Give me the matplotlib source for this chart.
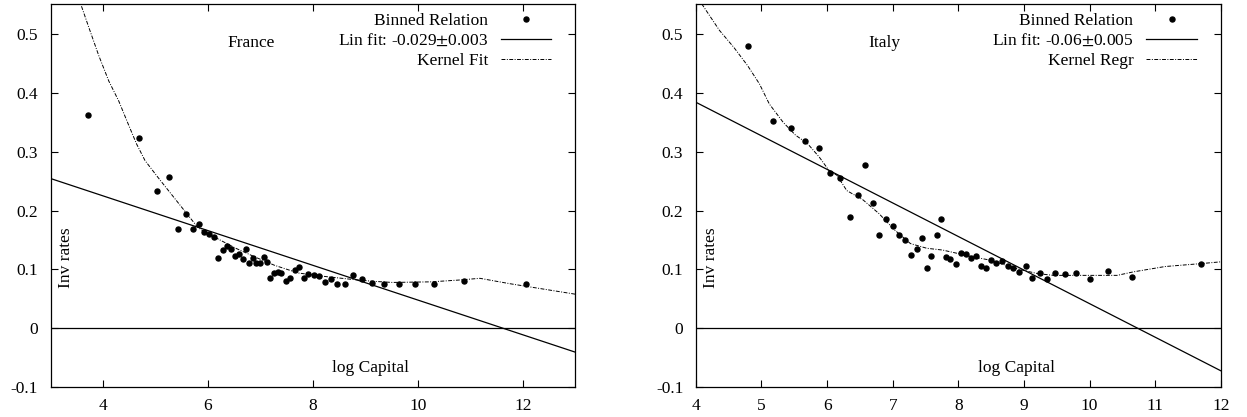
import matplotlib
matplotlib.use('Agg')
import matplotlib.pyplot as plt
import numpy as np

plt.rcParams['font.family'] = ['Liberation Serif', 'DejaVu Serif']
plt.rcParams['mathtext.fontset'] = 'stix'

# France: binned relation
fr_x = [3.72, 4.69, 5.02, 5.25, 5.43, 5.58, 5.71, 5.82, 5.92, 6.02, 6.12, 6.19, 6.28,
        6.37, 6.43, 6.51, 6.59, 6.66, 6.72, 6.78, 6.85, 6.92, 6.99, 7.06, 7.12, 7.19,
        7.26, 7.33, 7.40, 7.48, 7.57, 7.66, 7.74, 7.82, 7.91, 8.01, 8.12, 8.23, 8.35,
        8.46, 8.61, 8.76, 8.93, 9.13, 9.36, 9.63, 9.94, 10.31, 10.88, 12.06]
fr_y = [0.363, 0.324, 0.233, 0.257, 0.168, 0.194, 0.168, 0.178, 0.164, 0.161, 0.155,
        0.119, 0.133, 0.140, 0.134, 0.123, 0.126, 0.117, 0.134, 0.111, 0.120, 0.111,
        0.111, 0.122, 0.112, 0.086, 0.094, 0.096, 0.094, 0.080, 0.086, 0.099, 0.104,
        0.085, 0.093, 0.090, 0.089, 0.078, 0.084, 0.075, 0.075, 0.090, 0.084, 0.077,
        0.076, 0.075, 0.076, 0.075, 0.080, 0.075]
# France kernel fit
fr_kx = [3.59, 3.73, 3.92, 4.11, 4.30, 4.48, 4.64, 4.80, 5.05, 5.30, 5.55, 5.80, 5.93,
         6.23, 6.53, 6.90, 7.27, 7.72, 8.24, 8.76, 9.13, 9.51, 10.25, 10.77, 11.18,
         11.74, 13.0]
fr_ky = [0.547, 0.511, 0.463, 0.420, 0.386, 0.347, 0.313, 0.285, 0.256, 0.228, 0.200,
         0.172, 0.164, 0.150, 0.136, 0.121, 0.107, 0.094, 0.088, 0.083, 0.080, 0.078,
         0.079, 0.082, 0.085, 0.076, 0.058]
fr_fit = (0.343, -0.0295)   # intercept, slope

# Italy: binned relation
it_x = [4.79, 5.17, 5.45, 5.67, 5.87, 6.04, 6.19, 6.35, 6.47, 6.58, 6.70, 6.79, 6.90,
        7.00, 7.10, 7.19, 7.28, 7.37, 7.44, 7.52, 7.59, 7.67, 7.74, 7.81, 7.88, 7.96,
        8.04, 8.12, 8.19, 8.27, 8.35, 8.42, 8.50, 8.58, 8.66, 8.75, 8.84, 8.93, 9.03,
        9.13, 9.24, 9.35, 9.48, 9.62, 9.79, 10.01, 10.28, 10.65, 11.70]
it_y = [0.479, 0.352, 0.341, 0.318, 0.307, 0.264, 0.255, 0.189, 0.227, 0.277, 0.213,
        0.159, 0.185, 0.173, 0.158, 0.150, 0.124, 0.134, 0.154, 0.103, 0.123, 0.159,
        0.185, 0.121, 0.118, 0.110, 0.128, 0.126, 0.120, 0.123, 0.106, 0.103, 0.116,
        0.111, 0.115, 0.106, 0.103, 0.096, 0.106, 0.085, 0.094, 0.084, 0.094, 0.092,
        0.094, 0.084, 0.098, 0.088, 0.109]
# Italy kernel regression
it_kx = [4.09, 4.36, 4.58, 4.79, 4.97, 5.12, 5.33, 5.52, 5.70, 5.88, 6.03, 6.15, 6.30,
         6.55, 6.79, 7.03, 7.27, 7.52, 7.76, 8.00, 8.24, 8.48, 8.73, 8.97, 9.21, 9.45,
         9.94, 10.42, 10.67, 11.15, 11.70, 12.0]
it_ky = [0.551, 0.506, 0.477, 0.446, 0.415, 0.381, 0.350, 0.328, 0.314, 0.291, 0.268,
         0.260, 0.234, 0.218, 0.195, 0.167, 0.144, 0.136, 0.133, 0.127, 0.121, 0.116,
         0.107, 0.099, 0.093, 0.090, 0.090, 0.090, 0.096, 0.105, 0.110, 0.113]
it_fit = (0.612, -0.057)

panels = [
    dict(name='France', x=fr_x, y=fr_y, kx=fr_kx, ky=fr_ky, fit=fr_fit,
         fit_label='Lin fit: -0.029$\\pm$0.003', k_label='Kernel Fit',
         xlim=(3, 13), xticks=[4, 6, 8, 10, 12], name_x=0.382,
         pos=[0.0405, 0.0713, 0.421, 0.918]),
    dict(name='Italy', x=it_x, y=it_y, kx=it_kx, ky=it_ky, fit=it_fit,
         fit_label='Lin fit: -0.06$\\pm$0.005', k_label='Kernel Regr',
         xlim=(4, 12), xticks=[4, 5, 6, 7, 8, 9, 10, 11, 12], name_x=0.36,
         pos=[0.558, 0.0713, 0.421, 0.918]),
]

fig = plt.figure(figsize=(12.47, 4.17), dpi=100)
fs = 12.5

for p in panels:
    ax = fig.add_axes(p['pos'])
    xs = np.array(p['xlim'], dtype=float)
    ax.plot(p['x'], p['y'], 'o', color='black', markersize=3.6, label='Binned Relation')
    ax.plot(xs, p['fit'][0] + p['fit'][1] * xs, '-', color='black', linewidth=0.9,
            label=p['fit_label'])
    ax.plot(p['kx'], p['ky'], color='black', linewidth=0.7,
            linestyle=(0, (4, 1.5, 1, 1.5)), label=p['k_label'])
    ax.axhline(0, color='black', linewidth=0.9)

    ax.set_xlim(*p['xlim'])
    ax.set_ylim(-0.1, 0.55)
    ax.set_xticks(p['xticks'])
    ax.set_yticks([-0.1, 0, 0.1, 0.2, 0.3, 0.4, 0.5])
    ax.set_yticklabels(['-0.1', '0', '0.1', '0.2', '0.3', '0.4', '0.5'])
    ax.tick_params(direction='in', top=True, right=True, length=5, width=0.8,
                   labelsize=fs)
    ax.tick_params(axis='y', pad=9)
    ax.tick_params(axis='x', pad=8)
    for s in ax.spines.values():
        s.set_linewidth(0.9)

    ax.text(p['name_x'], 0.90, p['name'], transform=ax.transAxes, fontsize=fs,
            ha='center', va='center')
    ax.text(0.61, 0.05, 'log Capital', transform=ax.transAxes, fontsize=fs,
            ha='center', va='center')
    ax.text(0.029, 0.338, 'Inv rates', transform=ax.transAxes, fontsize=fs,
            ha='center', va='center', rotation=90)

    ax.legend(loc='upper right', bbox_to_anchor=(1 - 24 / 525, 1 - 8 / 383),
              frameon=False, markerfirst=False, fontsize=fs,
              handlelength=2.9, handletextpad=0.75, labelspacing=0.22,
              borderaxespad=0, borderpad=0)

plt.savefig('out.png', dpi=100)
